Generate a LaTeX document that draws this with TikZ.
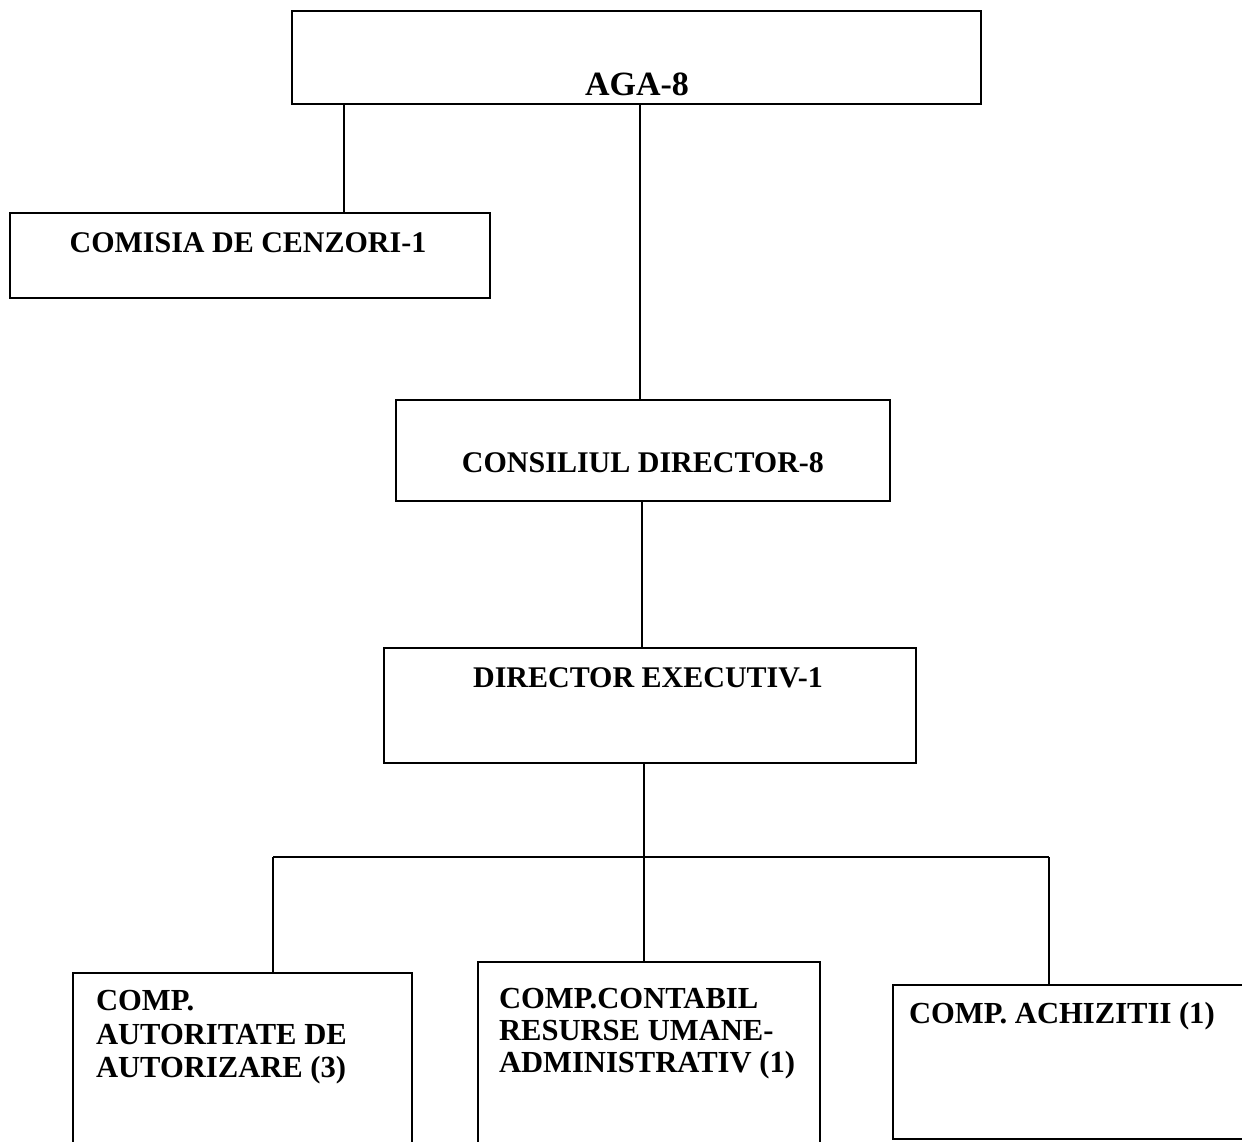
\documentclass[tikz,border=0pt]{standalone}
\usepackage{fontspec}
\setmainfont{Liberation Serif}
\begin{document}
\begin{tikzpicture}[x=1pt,y=-1pt,
  box/.style={draw=black, line width=1.8pt, rectangle, inner sep=0pt, outer sep=0pt},
  conn/.style={draw=black, line width=1.5pt},
  lbl/.style={inner sep=0pt, outer sep=0pt, font=\bfseries\fontsize{30}{34}\selectfont},
  sublbl/.style={inner sep=0pt, outer sep=0pt, font=\bfseries\fontsize{30.6}{34}\selectfont},
  biglbl/.style={inner sep=0pt, outer sep=0pt, font=\bfseries\fontsize{34}{38}\selectfont}]
\useasboundingbox (0,0) rectangle (1242,1142);
\clip (0,0) rectangle (1242,1142);
\fill[white] (0,0) rectangle (1242,1142);
% boxes
\node[box, minimum width=689pt, minimum height=93pt] (aga) at (636.5,57.5) {};
\node[box, minimum width=480pt, minimum height=85pt] (com) at (250,255.5) {};
\node[box, minimum width=494pt, minimum height=101pt] (cons) at (643,450.5) {};
\node[box, minimum width=532pt, minimum height=115pt] (dir) at (650,705.5) {};
\node[box, minimum width=339pt, minimum height=187pt] (b1) at (242.5,1066.5) {};
\node[box, minimum width=342pt, minimum height=198pt] (b2) at (649,1061) {};
\node[box, minimum width=367pt, minimum height=154pt] (b3) at (1076.5,1062) {};
% texts
\node[biglbl, anchor=base] (tAga) at (637,96) {AGA-8};
\node[lbl, anchor=base] (tCom) at (248,252) {COMISIA DE CENZORI-1};
\node[lbl, anchor=base] (tCons) at (643,472) {CONSILIUL DIRECTOR-8};
\node[lbl, anchor=base] (tDir) at (648,687) {DIRECTOR EXECUTIV-1};
\node[sublbl, anchor=base west] (tB1a) at (96,1010) {COMP.};
\node[sublbl, anchor=base west] (tB1b) at (96,1044) {AUTORITATE DE};
\node[sublbl, anchor=base west] (tB1c) at (96,1077) {AUTORIZARE (3)};
\node[sublbl, anchor=base west] (tB2a) at (499,1008) {COMP.CONTABIL};
\node[sublbl, anchor=base west] (tB2b) at (499,1040) {RESURSE UMANE-};
\node[sublbl, anchor=base west] (tB2c) at (499,1072) {ADMINISTRATIV (1)};
\node[sublbl, anchor=base west] (tB3) at (909,1023) {COMP. ACHIZITII (1)};
% connector guide coordinates
\coordinate (c1) at (344,0);
\coordinate (c2) at (640,0);
\coordinate (c3) at (642,0);
\coordinate (busM) at (644,857);
\coordinate (busL) at (273,857);
\coordinate (busR) at (1049,857);
% connectors
\draw[conn] (aga.south -| c1) -- (com.north -| c1);
\draw[conn] (aga.south -| c2) -- (cons.north -| c2);
\draw[conn] (cons.south -| c3) -- (dir.north -| c3);
\draw[conn] (dir.south -| busM) -- (busM);
\draw[conn] (busL) -- (busR);
\draw[conn] (busL) -- (b1.north -| busL);
\draw[conn] (busM) -- (b2.north -| busM);
\draw[conn] (busR) -- (b3.north -| busR);
\end{tikzpicture}
\end{document}
